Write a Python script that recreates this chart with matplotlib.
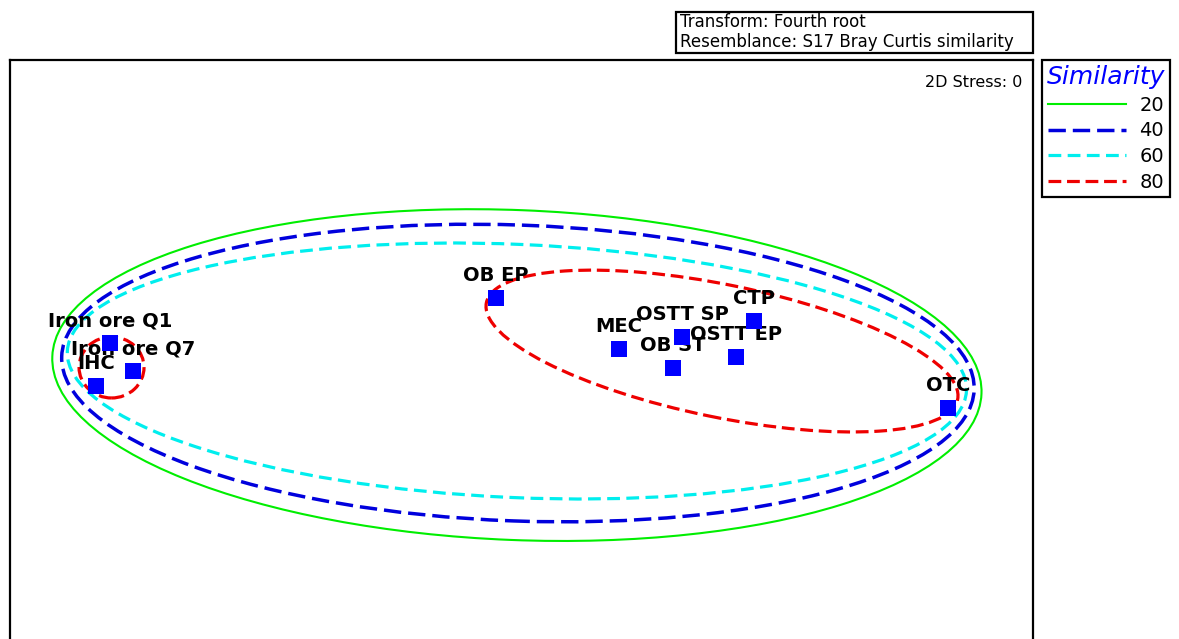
import numpy as np
import matplotlib.pyplot as plt
from matplotlib.patches import Ellipse, Rectangle
from matplotlib.lines import Line2D

plt.rcParams["font.family"] = ["DejaVu Sans"]

# nMDS ordination of sites
sites = ["Iron ore Q1", "Iron ore Q7", "IHC", "OB EP", "MEC",
         "OSTT SP", "OB ST", "CTP", "OSTT EP", "OTC"]
mds_x = [-1.609, -1.519, -1.664, -0.100, 0.381, 0.628, 0.592, 0.909, 0.839, 1.668]
mds_y = [0.093, -0.016, -0.075, 0.269, 0.070, 0.117, -0.004, 0.180, 0.039, -0.161]

# cluster similarity contours (level, centre x, centre y, width, height, angle)
levels = [20, 40, 60, 80]
contour_level = [20, 40, 60, 80, 80]
contour_cx = [-0.018, -0.014, -0.018, 0.784, -1.603]
contour_cy = [-0.032, -0.024, -0.016, 0.062, -0.002]
contour_w = [3.636, 3.570, 3.519, 1.881, 0.254]
contour_h = [1.290, 1.157, 0.990, 0.518, 0.239]
contour_ang = [-2.3, -2.1, -2.5, -11.6, 0.0]

info_lines = ["Transform: Fourth root", "Resemblance: S17 Bray Curtis similarity"]
stress = 0

styles = {
    20: dict(color="#00ee00", lw=1.5, ls="-"),
    40: dict(color="#0000dd", lw=2.5, ls=(0, (5, 2.0))),
    60: dict(color="#00eeee", lw=2.3, ls=(0, (4, 2.0))),
    80: dict(color="#ee0000", lw=2.3, ls=(0, (4, 1.8))),
}

fig = plt.figure(figsize=(11.79, 6.39), dpi=100)

ax = fig.add_axes([10 / 1179, 1 - 660 / 639, 1023 / 1179, 600 / 639])
ax.set_xlim(-2.0, 2.0)
ax.set_ylim(1.2 - 600 / 255.75, 1.2)
ax.set_xticks([])
ax.set_yticks([])
for sp in ax.spines.values():
    sp.set_linewidth(1.6)
    sp.set_color("black")

for lev, cx, cy, w, h, a in zip(contour_level, contour_cx, contour_cy,
                                contour_w, contour_h, contour_ang):
    st = styles[lev]
    ax.add_patch(
        Ellipse(
            (cx, cy), w, h, angle=a,
            fill=False,
            edgecolor=st["color"],
            linewidth=st["lw"],
            linestyle=st["ls"],
            zorder=2
        )
    )

for name, x, y in zip(sites, mds_x, mds_y):
    ax.annotate(
        name, (x, y),
        xytext=(0, 12), textcoords="offset points",
        ha="center", va="baseline",
        fontsize=14, fontweight="bold",
        color="black", zorder=3
    )

ax.scatter(mds_x, mds_y, marker="s", s=125, color="#0000ff",
           edgecolors="none", zorder=4)

ax.text(0.990, 0.975, f"2D Stress: {stress}", transform=ax.transAxes,
        ha="right", va="top", fontsize=11.5)

# transform / resemblance box above the plot
fig.patches.append(
    Rectangle(
        (676 / 1179, 1 - 53 / 639), 357 / 1179, 41 / 639,
        transform=fig.transFigure,
        fill=False, edgecolor="black", linewidth=1.6
    )
)
fig.text(680 / 1179, 1 - 22 / 639, info_lines[0], ha="left", va="center", fontsize=12)
fig.text(680 / 1179, 1 - 42 / 639, info_lines[1], ha="left", va="center", fontsize=12)

handles = [
    Line2D([], [], color=styles[l]["color"], lw=styles[l]["lw"], ls=styles[l]["ls"])
    for l in levels
]
leg = fig.legend(
    handles, [str(l) for l in levels],
    loc="upper left",
    bbox_to_anchor=(1042 / 1179, 1 - 60 / 639),
    title="Similarity",
    fontsize=14,
    handlelength=4.0,
    handletextpad=0.7,
    labelspacing=0.35,
    borderpad=0.25,
    borderaxespad=0,
    fancybox=False,
    framealpha=1,
    edgecolor="black"
)
leg.get_frame().set_linewidth(1.6)
leg.get_title().set_color("#0000ff")
leg.get_title().set_fontstyle("italic")
leg.get_title().set_fontsize(18)

fig.savefig("out.png", dpi=100)
